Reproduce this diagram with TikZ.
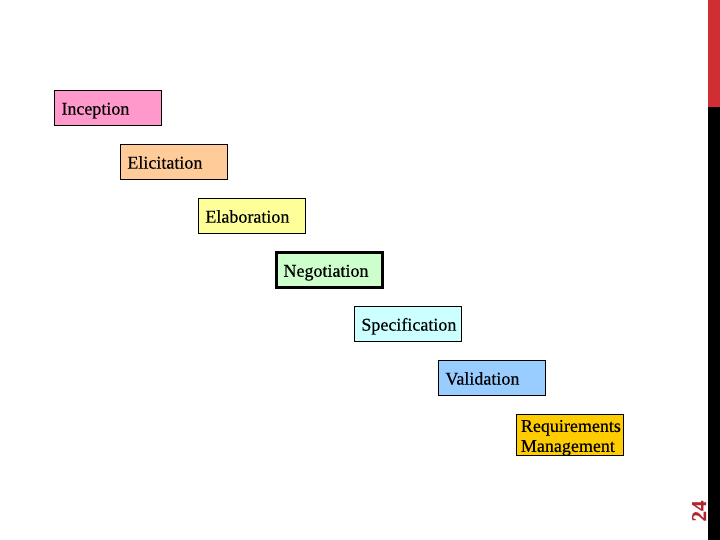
\documentclass[tikz,border=0pt]{standalone}
\usepackage{fontspec}
\setmainfont{Liberation Serif}[FakeBold=0.5]
\usetikzlibrary{positioning}
\definecolor{rqpink}{HTML}{FF99CC}
\definecolor{rqpeach}{HTML}{FFCC99}
\definecolor{rqyellow}{HTML}{FFFF99}
\definecolor{rqmint}{HTML}{CCFFCC}
\definecolor{rqcyan}{HTML}{CCFFFF}
\definecolor{rqblue}{HTML}{99CCFF}
\definecolor{rqgold}{HTML}{FFCC00}
\definecolor{rqred}{HTML}{D02E32}
\definecolor{rqnum}{HTML}{B0262E}

\begin{document}
\begin{tikzpicture}[x=1pt,y=-1pt,
 box/.style={draw=black,line width=0.8pt,anchor=north west,minimum height=35pt,text width=93pt,inner xsep=7pt,inner ysep=2pt,align=left,text height=14.5pt,text depth=1pt,font=\fontsize{18}{20}\selectfont}]
\fill[white](0,0)rectangle(720,540);
\useasboundingbox(0,0)rectangle(720,540);
% staircase of phases
\node[box,fill=rqpink](inc) at (54,90){Inception};
\node[box,fill=rqpeach](eli) at (120,144){Elicitation};
\node[box,fill=rqyellow](ela) at (198,198){Elaboration};
\node[box,fill=rqmint,line width=3pt,text width=92pt](neg) at (275,251){Negotiation};
\node[box,fill=rqcyan](spe) at (354,306){Specification};
\node[box,fill=rqblue](val) at (438,360){Validation};
\node[box,fill=rqgold,minimum height=41pt,text width=98pt,inner xsep=4.5pt,inner ysep=0pt,text height=15pt,text depth=21pt](rm) at (516,414){Requirements\\Management};
% side bar
\fill[rqred](708,0)rectangle(720,107);
\fill[black](708,107)rectangle(720,540);
\node[rotate=90,text=rqnum,font=\fontsize{21}{21}\selectfont\bfseries](num) at (699,511){24};
\end{tikzpicture}
\end{document}
